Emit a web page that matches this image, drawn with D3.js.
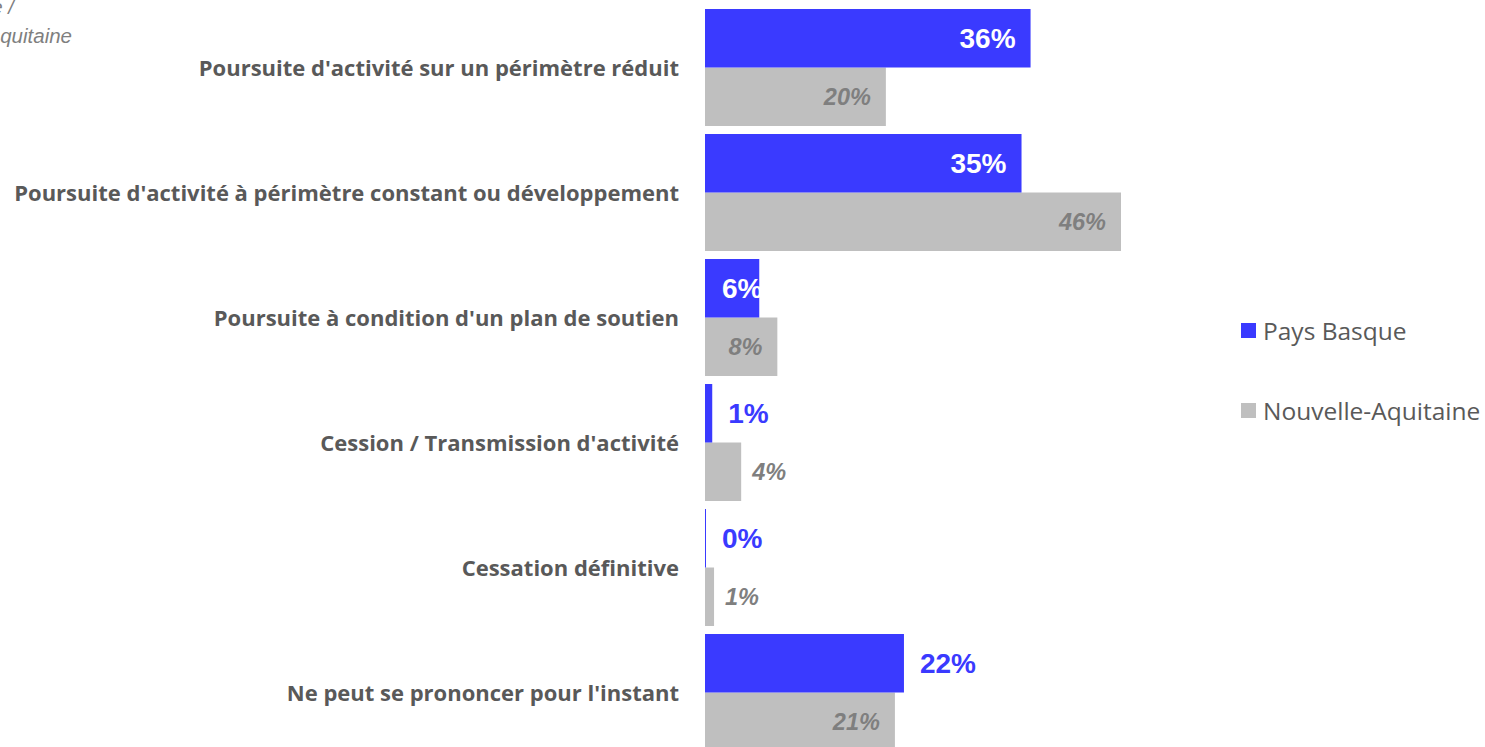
<!DOCTYPE html>
<html>
<head>
<meta charset="utf-8">
<script src="https://cdn.jsdelivr.net/npm/d3@7"></script>
<style>
  body { margin: 0; background: white; }
  svg { display: block; }
</style>
</head>
<body>
<div id="chart"></div>
<script>
// ----------------------------------------
// DATA
// ----------------------------------------
const categories = [
  "Poursuite d'activité sur un périmètre réduit",
  "Poursuite d'activité à périmètre constant ou développement",
  "Poursuite à condition d'un plan de soutien",
  "Cession / Transmission d'activité",
  "Cessation définitive",
  "Ne peut se prononcer pour l'instant"
];
const seriesNames = ["Pays Basque", "Nouvelle-Aquitaine"];
const paysBasque = [36, 35, 6, 0.8, 0.1, 22];
const nouvelleAquitaine = [20, 46, 8, 4, 1, 21];
const pbLabels = ["36%", "35%", "6%", "1%", "0%", "22%"];
const naLabels = ["20%", "46%", "8%", "4%", "1%", "21%"];

const width = 1485, height = 747;
const blue = "#3a3aff", grey = "#bfbfbf";

const svg = d3.select("#chart")
  .append("svg")
  .attr("width", width)
  .attr("height", height);

// ----------------------------------------
// SCALES
// ----------------------------------------
const x = d3.scaleLinear().domain([0, 46]).range([705, 1121]);
const y = d3.scaleBand()
  .domain(categories)
  .range([5, 755])
  .paddingInner(0.064)
  .paddingOuter(0.032);
const sub = d3.scaleBand()
  .domain(seriesNames)
  .range([0, y.bandwidth()]);

const rows = categories.map((c, i) => ({
  cat: c,
  pb: paysBasque[i], na: nouvelleAquitaine[i],
  pbLabel: pbLabels[i], naLabel: naLabels[i]
}));

// ----------------------------------------
// BARS
// ----------------------------------------
svg.selectAll(".bar-na")
  .data(rows)
  .join("rect")
  .attr("x", x(0))
  .attr("y", d => y(d.cat) + sub("Nouvelle-Aquitaine"))
  .attr("width", d => x(d.na) - x(0))
  .attr("height", sub.bandwidth())
  .attr("fill", grey);

svg.selectAll(".bar-pb")
  .data(rows)
  .join("rect")
  .attr("x", x(0))
  .attr("y", d => y(d.cat) + sub("Pays Basque"))
  .attr("width", d => Math.max(1, x(d.pb) - x(0)))
  .attr("height", sub.bandwidth())
  .attr("fill", blue);

// ----------------------------------------
// VALUE LABELS
// ----------------------------------------
const insidePb = d => d.pb >= 5 && d.pb < 20 || d.pb >= 30;
svg.selectAll(".lab-pb")
  .data(rows)
  .join("text")
  .attr("class", "lab-pb")
  .attr("y", d => y(d.cat) + sub("Pays Basque") + sub.bandwidth() / 2)
  .attr("dy", "0.36em")
  .attr("fill", d => insidePb(d) ? "white" : blue)
  .style("font-family", "'Liberation Sans', Arial, sans-serif")
  .style("font-weight", "bold")
  .style("font-size", "28px")
  .text(d => d.pbLabel)
  .attr("x", function(d) {
    if (!insidePb(d)) return x(d.pb) + 16;
    const w = this.getComputedTextLength();
    return Math.max(x(d.pb) - 15 - w, x(0) + 17);
  });

svg.selectAll(".lab-na")
  .data(rows)
  .join("text")
  .attr("class", "lab-na")
  .attr("y", d => y(d.cat) + sub("Nouvelle-Aquitaine") + sub.bandwidth() / 2)
  .attr("dy", "0.36em")
  .attr("fill", "#7f7f7f")
  .style("font-family", "'Liberation Sans', Arial, sans-serif")
  .style("font-weight", "bold")
  .style("font-style", "italic")
  .style("font-size", "23.5px")
  .text(d => d.naLabel)
  .attr("x", function(d) {
    if (d.na < 6) return x(d.na) + 11;
    return x(d.na) - 15 - this.getComputedTextLength();
  });

// ----------------------------------------
// CATEGORY LABELS
// ----------------------------------------
svg.selectAll(".cat")
  .data(categories)
  .join("text")
  .attr("x", 679)
  .attr("y", d => y(d) + y.bandwidth() / 2 + 1)
  .attr("dy", "0.35em")
  .attr("text-anchor", "end")
  .attr("fill", "#595959")
  .style("font-family", "'Open Sans', sans-serif")
  .style("font-weight", "bold")
  .style("font-size", "22px")
  .text(d => d);

// ----------------------------------------
// LEGEND
// ----------------------------------------
const legend = svg.selectAll(".legend")
  .data(seriesNames)
  .join("g")
  .attr("transform", (d, i) => `translate(1241, ${323 + i * 80})`);

legend.append("rect")
  .attr("width", 15)
  .attr("height", 15)
  .attr("fill", (d, i) => i === 0 ? blue : grey);

legend.append("text")
  .attr("x", 22)
  .attr("y", 8)
  .attr("dy", "0.35em")
  .attr("fill", "#595959")
  .style("font-family", "'Open Sans', sans-serif")
  .style("font-size", "24.5px")
  .text(d => d);

// ----------------------------------------
// CLIPPED TITLE (top-left)
// ----------------------------------------
svg.append("text")
  .attr("x", 14).attr("y", 14)
  .attr("text-anchor", "end")
  .attr("fill", "#7f7f7f")
  .style("font-family", "'Liberation Sans', Arial, sans-serif")
  .style("font-style", "italic")
  .style("font-size", "20.5px")
  .text("Pays Basque /");

svg.append("text")
  .attr("x", 72).attr("y", 43)
  .attr("text-anchor", "end")
  .attr("fill", "#7f7f7f")
  .style("font-family", "'Liberation Sans', Arial, sans-serif")
  .style("font-style", "italic")
  .style("font-size", "20.5px")
  .text("Nouvelle-Aquitaine");
</script>
</body>
</html>
